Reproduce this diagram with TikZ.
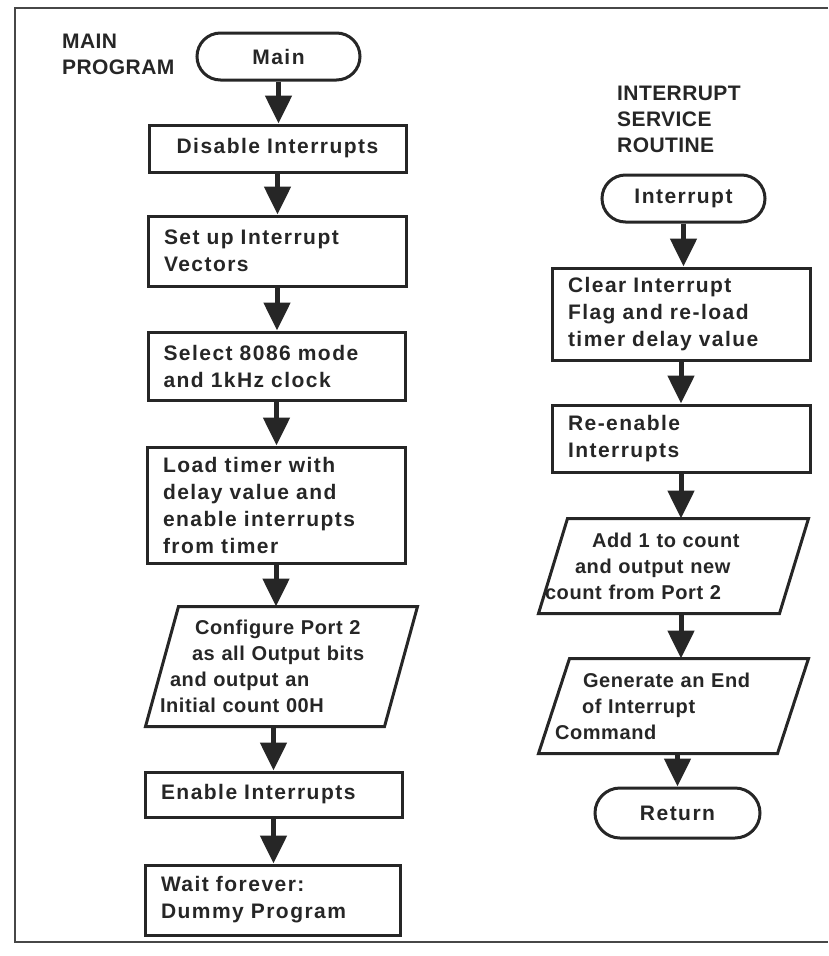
\documentclass[tikz,border=0pt]{standalone}
\usepackage{fontspec}
\setmainfont{Liberation Sans}
\newfontfamily\fcfont[LetterSpace=7]{Liberation Sans}
\newfontfamily\iofont[LetterSpace=3]{Liberation Sans}
\newfontfamily\hdfont[LetterSpace=2]{Liberation Sans}
\newcommand\myboxfont{\fcfont\bfseries\fontsize{21}{27}\selectfont\fontdimen2\font=14pt\relax}
\newcommand\myiofont{\iofont\bfseries\fontsize{20}{26}\selectfont\fontdimen2\font=9pt\relax}
\newcommand\myheadfont{\hdfont\bfseries\fontsize{21}{26}\selectfont}
\usetikzlibrary{arrows.meta}
\definecolor{ink}{gray}{0.15}
\tikzset{
  base/.style={draw=ink, line width=3pt, text=ink, inner sep=0pt, font=\myboxfont},
  procbox/.style={base, align=left},
  termbox/.style={base, align=center},
  iobox/.style={base, draw=none, align=left, font=\myiofont},
  ioline/.style={draw=ink, line width=3pt},
  flow/.style={draw=ink, line width=5pt, -{Triangle[length=28pt 0 0, width=26pt 0 0]}},
  heading/.style={text=ink, font=\myheadfont, align=left, inner sep=0pt, anchor=north west},
  frame/.style={draw=ink!85, line width=2pt}
}
\begin{document}
\begin{tikzpicture}[x=1pt,y=-1pt]
\useasboundingbox (0,0) rectangle (828,956);
\draw[frame] (828,8) -- (15,8) -- (15,942) -- (828,942);

% headings
\node[heading] (hmain) at (62,34) {MAIN\\PROGRAM};
\node[heading] (hisr) at (617,86) {INTERRUPT\\SERVICE\\ROUTINE};

% main program
\node[termbox, minimum width=163pt, minimum height=47pt, rounded corners=23.5pt] (main) at (278.5,56.5) {Main};
\node[procbox, align=center, text width=226pt, minimum width=257pt, minimum height=47pt] (disable) at (277.5,148.5) {Disable Interrupts};
\node[procbox, text width=226pt, minimum width=258pt, minimum height=70pt] (setup) at (277,251) {Set up Interrupt\\Vectors};
\node[procbox, text width=226pt, minimum width=257pt, minimum height=68pt] (select) at (276.5,366) {Select 8086 mode\\and 1kHz clock};
\node[procbox, text width=226pt, minimum width=258pt, minimum height=116pt] (load) at (276,505) {Load timer with\\delay value and\\enable interrupts\\from timer};
\node[iobox, text width=243pt, minimum width=269pt, minimum height=117pt] (cfg) at (281.5,666.5) {\hspace*{35pt}Configure Port 2\\\hspace*{32pt}as all Output bits\\\hspace*{10pt}and output an\\Initial count 00H};
\draw[ioline] ([xshift=33pt]cfg.north west) -- (cfg.north east) -- ([xshift=-33pt]cfg.south east) -- (cfg.south west) -- cycle;
\node[procbox, text width=225pt, minimum width=257pt, minimum height=45pt] (enable) at (273.5,794.5) {Enable Interrupts};
\node[procbox, text width=223pt, minimum width=255pt, minimum height=70pt] (wait) at (272.5,900) {Wait forever:\\Dummy Program};

\draw[flow] (main.south) -- (main.south |- disable.north);
\draw[flow] (disable.south) -- (disable.south |- setup.north);
\draw[flow] (setup.south) -- (setup.south |- select.north);
\draw[flow] (select.south) -- (select.south |- load.north);
\draw[flow] (load.south) -- (load.south |- cfg.north);
\draw[flow] (enable.north |- cfg.south) -- (enable.north);
\draw[flow] (enable.south) -- (enable.south |- wait.north);

% interrupt service routine
\node[termbox, minimum width=163pt, minimum height=47pt, rounded corners=23.5pt] (int) at (683.5,198.5) {Interrupt};
\node[procbox, text width=226pt, minimum width=258pt, minimum height=92pt] (clear) at (681,314) {Clear Interrupt\\Flag and re-load\\timer delay value};
\node[procbox, text width=226pt, minimum width=258pt, minimum height=67pt] (reen) at (681,438.5) {Re-enable\\Interrupts};
\node[iobox, text width=257pt, minimum width=267pt, minimum height=92pt] (add) at (673.5,566) {\hspace*{47pt}Add 1 to count\\\hspace*{30pt}and output new\\count from Port 2};
\draw[ioline] ([xshift=29pt]add.north west) -- (add.north east) -- ([xshift=-29pt]add.south east) -- (add.south west) -- cycle;
\node[iobox, text width=237pt, minimum width=267pt, minimum height=92pt] (gen) at (673.5,706) {\hspace*{28pt}Generate an End\\\hspace*{27pt}of Interrupt\\Command};
\draw[ioline] ([xshift=31pt]gen.north west) -- (gen.north east) -- ([xshift=-31pt]gen.south east) -- (gen.south west) -- cycle;
\node[termbox, minimum width=165pt, minimum height=50pt, rounded corners=25pt] (ret) at (677.5,813) {Return};

\draw[flow] (int.south) -- (int.south |- clear.north);
\draw[flow] (clear.south) -- (clear.south |- reen.north);
\draw[flow] (reen.south) -- (reen.south |- add.north);
\draw[flow] (add.south -| clear.south) -- (gen.north -| clear.south);
\draw[flow] (gen.south -| ret.north) -- (ret.north);
\end{tikzpicture}
\end{document}
